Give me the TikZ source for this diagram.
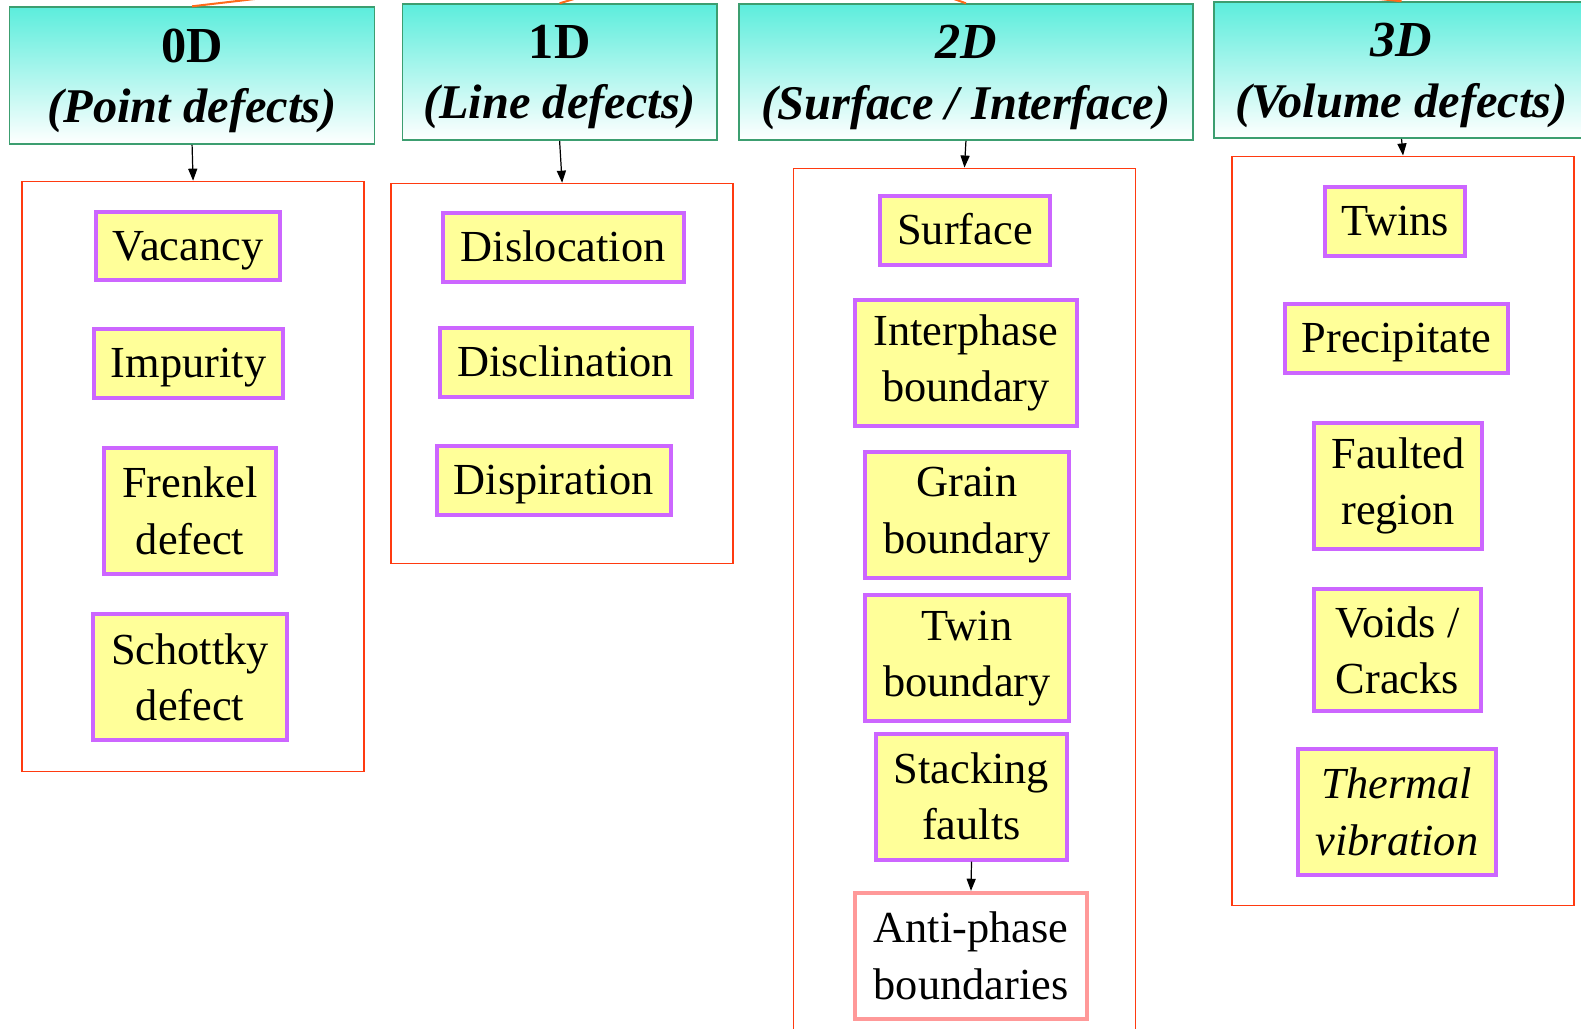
\documentclass[tikz,border=0pt]{standalone}
\usepackage{fontspec}
\setmainfont{Liberation Serif}
\usetikzlibrary{arrows.meta}

\definecolor{hdrteal}{HTML}{5CEDDC}
\definecolor{hdrgreen}{HTML}{3C9E70}
\definecolor{grpred}{HTML}{FF3A10}
\definecolor{itempurple}{HTML}{CC66FF}
\definecolor{itemyellow}{HTML}{FFFF99}
\definecolor{apbpink}{HTML}{FF9999}
\definecolor{rootorange}{HTML}{FF6A1A}

\newcommand{\hdrtop}{\fontsize{50}{60}\selectfont}
\newcommand{\hdrsub}{\itshape}

\tikzset{
  hdr/.style={draw=hdrgreen, line width=1.5pt, top color=hdrteal,
    bottom color=white, inner sep=0pt, align=center, text depth=0pt,
    font=\fontsize{48}{60}\selectfont\bfseries},
  grp/.style={draw=grpred, line width=1.5pt, inner sep=0pt},
  item/.style={draw=itempurple, fill=itemyellow, line width=4pt,
    inner sep=0pt, align=center, font=\fontsize{44}{56}\selectfont},
  oneline/.style={text height=36pt, text depth=8pt},
  apb/.style={item, draw=apbpink, fill=white},
  link/.style={-{Triangle[length=12pt,width=9pt]}, line width=1.2pt},
  rootlink/.style={draw=rootorange, line width=2pt},
}

\begin{document}
\begin{tikzpicture}[x=1pt, y=-1pt]
\useasboundingbox (0,0) rectangle (1568,1020);

% category headers
\node[hdr, minimum width=362pt, minimum height=136pt] (h0) at (190.5,75)
  {{\hdrtop 0D}\\{\hdrsub (Point defects)}};
\node[hdr, minimum width=312pt, minimum height=135pt] (h1) at (555,71.5)
  {{\hdrtop 1D}\\{\hdrsub (Line defects)}};
\node[hdr, minimum width=450pt, minimum height=135pt] (h2) at (958,71.5)
  {{\hdrtop\itshape 2D}\\{\hdrsub (Surface / Interface)}};
\node[hdr, minimum width=372pt, minimum height=135pt] (h3) at (1390,69.5)
  {{\hdrtop\itshape 3D}\\{\hdrsub (Volume defects)}};

% links to the common parent above
\coordinate (root) at (775,-62);
\foreach \h in {h0,h1,h2,h3}
  \draw[rootlink] (root) -- (\h.north);

% group frames
\node[grp, minimum width=339pt, minimum height=585pt] (c0) at (191.5,472.5) {};
\node[grp, minimum width=339pt, minimum height=377pt] (c1) at (557.5,370.5) {};
\node[grp, minimum width=339pt, minimum height=880pt] (c2) at (956.5,607) {};
\node[grp, minimum width=339pt, minimum height=743pt] (c3) at (1391.5,526.5) {};

\draw[link] (h0.south) -- (c0.north);
\draw[link] (h1.south) -- (c1.north);
\draw[link] (h2.south) -- (c2.north);
\draw[link] (h3.south) -- (c3.north);

% 0D items
\node[item, oneline, minimum width=183pt, minimum height=68pt] (vac) at (186.5,244) {Vacancy};
\node[item, oneline, minimum width=188pt, minimum height=68pt] (imp) at (187,360.5) {Impurity};
\node[item, minimum width=171pt, minimum height=125pt] (fre) at (188.5,506.5) {Frenkel\\defect};
\node[item, minimum width=193pt, minimum height=125pt] (sch) at (188.5,671.5) {Schottky\\defect};

% 1D items
\node[item, oneline, minimum width=239pt, minimum height=68pt] (dsl) at (558.5,245.5) {Dislocation};
\node[item, oneline, minimum width=250pt, minimum height=68pt] (dcl) at (561,359.5) {Disclination};
\node[item, oneline, minimum width=232pt, minimum height=68pt] (dsp) at (549,476.5) {Dispiration};

% 2D items
\node[item, oneline, minimum width=168pt, minimum height=68pt] (srf) at (957,228.5) {Surface};
\node[item, minimum width=220pt, minimum height=125pt] (iph) at (958,360) {Interphase\\boundary};
\node[item, minimum width=202pt, minimum height=125pt] (grb) at (959,511) {Grain\\boundary};
\node[item, minimum width=202pt, minimum height=125pt] (twb) at (959,653) {Twin\\boundary};
\node[item, minimum width=189pt, minimum height=125pt] (stf) at (963.5,790) {Stacking\\faults};
\node[apb, minimum width=230pt, minimum height=125pt] (apbd) at (963,948) {Anti-phase\\boundaries};
\draw[link] (stf.south) -- (apbd.north);

% 3D items
\node[item, oneline, minimum width=139pt, minimum height=68pt] (twn) at (1383.5,219.5) {Twins};
\node[item, oneline, minimum width=222pt, minimum height=68pt] (pre) at (1385,335.5) {Precipitate};
\node[item, minimum width=167pt, minimum height=125pt] (flt) at (1386.5,482) {Faulted\\region};
\node[item, minimum width=166pt, minimum height=121pt] (vcr) at (1386,645) {Voids /\\Cracks};
\node[item, minimum width=197pt, minimum height=125pt] (thv) at (1385.5,805) {\itshape Thermal\\\itshape vibration};

\end{tikzpicture}
\end{document}
